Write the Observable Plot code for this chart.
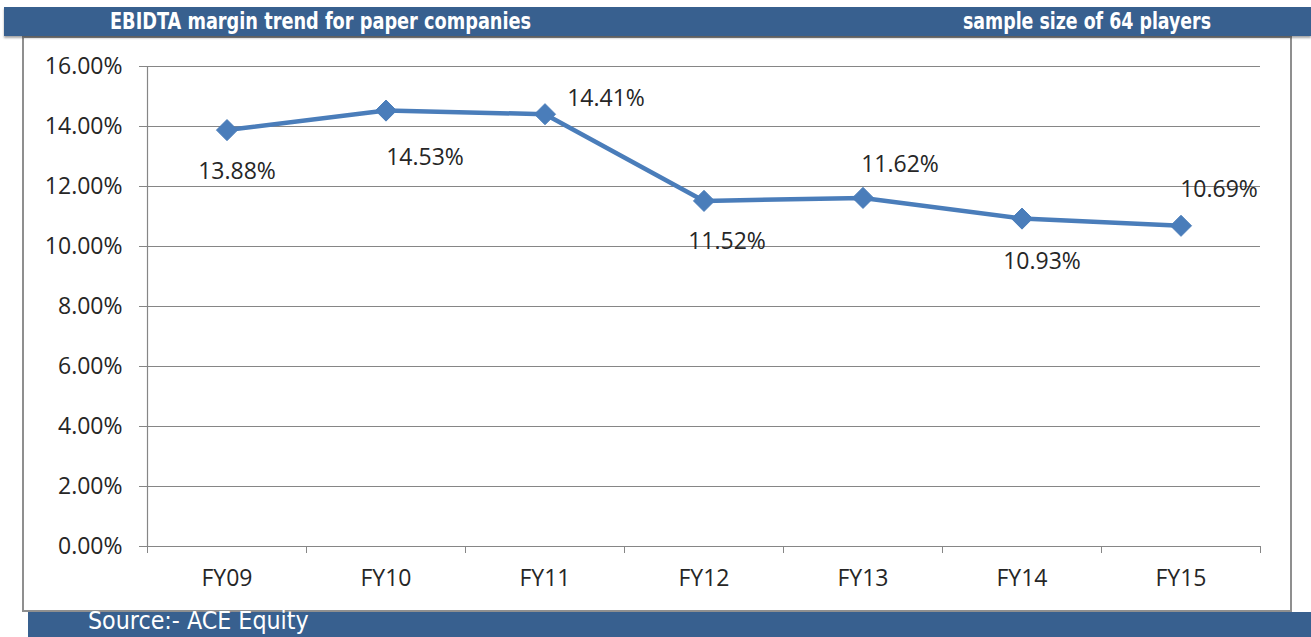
<!DOCTYPE html>
<html><head><meta charset="utf-8">
<script src="https://cdn.jsdelivr.net/npm/d3@7"></script>
<script src="https://cdn.jsdelivr.net/npm/@observablehq/plot@0.6"></script>
<style>
html,body{margin:0;padding:0;background:#fff}
body{width:1311px;height:637px;position:relative;overflow:hidden;font-family:"Open Sans",sans-serif}
#header{position:absolute;left:4px;top:7px;width:1307px;height:29px;background:#38608f;box-shadow:0 2px 2px rgba(0,0,0,0.35);z-index:3}
.hdr{position:absolute;top:0;height:29px;line-height:29px;color:#fff;font-family:"DejaVu Sans Condensed","Liberation Sans Narrow",sans-serif;font-weight:bold;font-size:23px;white-space:nowrap;display:inline-block;transform-origin:0 50%}
#box{position:absolute;left:22px;top:36px;width:1270px;height:576px;box-sizing:border-box;border:2px solid #8f8f8f;background:#fff;z-index:0}
#chart{position:absolute;left:0;top:0;z-index:1}
#footer{position:absolute;left:28px;top:612px;width:1283px;height:25px;background:#38608f;z-index:3}
#footer span{position:absolute;left:60px;top:-3px;color:#fff;font-family:"DejaVu Sans Condensed","Liberation Sans Narrow",sans-serif;font-size:24px;line-height:25px;white-space:nowrap;display:inline-block;transform-origin:0 50%;transform:scaleX(1.03)}
</style>
</head><body>
<div id="header"><span class="hdr" style="left:106px;transform:scaleX(0.857)">EBIDTA margin trend for paper companies</span><span class="hdr" style="left:959px;transform:scaleX(0.84)">sample size of 64 players</span></div>
<div id="box"></div>
<div id="chart"></div>
<div id="footer"><span>Source:- ACE Equity</span></div>
<script>
const categories = ["FY09", "FY10", "FY11", "FY12", "FY13", "FY14", "FY15"];
const margins = [13.88, 14.53, 14.41, 11.52, 11.62, 10.93, 10.69];
const yTicks = [0, 2, 4, 6, 8, 10, 12, 14, 16];

const data = categories.map((c, i) => ({cat: c, i, pos: i + 0.5, v: margins[i]}));

// label placement relative to each marker (px)
const labelOffsets = [[10, 42], [39, 47], [61, -16], [23, 41], [37, -33], [20, 43], [38, -36]];

const lineColor = "#4a7dba";
const gridColor = "#868686";
const textColor = "#262626";
const font = "'Open Sans', sans-serif";

const labelMarks = data.map((d, k) => Plot.text([d], {
  x: "pos", y: "v", text: r => r.v.toFixed(2) + "%",
  dx: labelOffsets[k][0], dy: labelOffsets[k][1],
  fontSize: 23, fill: textColor, textAnchor: "middle", lineAnchor: "middle"
}));

const chart = Plot.plot({
  width: 1311, height: 637,
  marginLeft: 147, marginRight: 51, marginTop: 66, marginBottom: 91,
  style: {background: "transparent", fontFamily: font, color: textColor, overflow: "visible"},
  x: {domain: [0, 7], axis: null},
  y: {domain: [0, 16], axis: null},
  marks: [
    Plot.gridY(yTicks, {stroke: gridColor, strokeOpacity: 1, strokeWidth: 1.2}),
    Plot.axisY(yTicks, {tickSize: 8, tickPadding: 17, stroke: gridColor, strokeOpacity: 1, fontSize: 23, fill: textColor, tickFormat: d => d.toFixed(2) + "%"}),
    Plot.ruleX([0], {stroke: gridColor, strokeWidth: 1.2}),
    Plot.ruleY([0], {stroke: gridColor, strokeWidth: 1.2}),
    Plot.axisX(d3.range(8), {tickSize: 7, stroke: gridColor, strokeOpacity: 1, tickFormat: () => ""}),
    Plot.axisX(data.map(d => d.pos), {tickSize: 0, tickPadding: 23, fontSize: 23, fill: textColor, tickFormat: p => categories[Math.round(p - 0.5)]}),
    Plot.line(data, {x: "pos", y: "v", stroke: lineColor, strokeWidth: 4.5}),
    Plot.dot(data, {x: "pos", y: "v", symbol: "diamond2", r: 9.5, fill: lineColor, stroke: lineColor, strokeWidth: 1}),
    ...labelMarks
  ]
});
document.getElementById("chart").appendChild(chart);
</script>
</body></html>
